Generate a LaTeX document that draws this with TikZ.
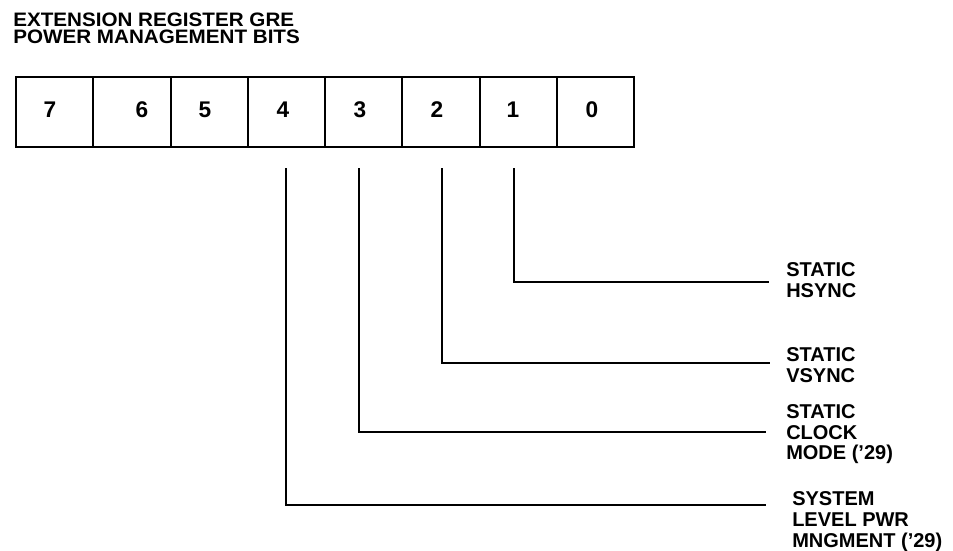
\documentclass[tikz,border=0pt]{standalone}
\usepackage{fontspec}
\setmainfont{Liberation Sans}
\usepackage{tikz}
\usetikzlibrary{arrows.meta, positioning}
\tikzset{
  cell/.style={draw, line width=1.5pt, minimum width=57.94pt, minimum height=52.5pt, inner sep=0pt},
  digit/.style={inner sep=0pt, font=\bfseries\fontsize{17}{17}\selectfont},
  lbl/.style={anchor=north west, inner sep=0pt, align=left, font=\bfseries\fontsize{15}{15.6}\selectfont},
  wire/.style={line width=1.5pt},
}
\begin{document}
\begin{tikzpicture}[x=0.75pt, y=-0.75pt]
    \useasboundingbox (0,0) rectangle (953,550);
    \node[lbl, xscale=1.06, transform shape, font=\bfseries\fontsize{14.6}{12.5}\selectfont] (title) at (13,12.7)
      {EXTENSION REGISTER GRE\\POWER MANAGEMENT BITS};
    \foreach \b [count=\k from 0] in {7,...,0}
      \node[cell] (c\b) at ({54.625+77.25*\k},112) {};
    \foreach \b/\x in {7/50, 6/142, 5/205, 4/283, 3/360, 2/437, 1/513, 0/592}
      \node[digit] (d\b) at (\x,110) {\b};
    \node[lbl] (l1) at (786,262) {STATIC\\HSYNC};
    \node[lbl] (l2) at (786,347) {STATIC\\VSYNC};
    \node[lbl] (l3) at (786,404) {STATIC\\CLOCK\\MODE ('29)};
    \node[lbl] (l4) at (792,491.5) {SYSTEM\\LEVEL PWR\\MNGMENT ('29)};
    \foreach \b/\x/\y/\e in {1/514/282/769, 2/442/363/770, 3/359/432/766, 4/286/505/766} {
      \coordinate (t\b) at (\x,168);
      \coordinate (e\b) at (\e,\y);
      \draw[wire] (t\b) |- (e\b);
    }
  \end{tikzpicture}
\end{document}
